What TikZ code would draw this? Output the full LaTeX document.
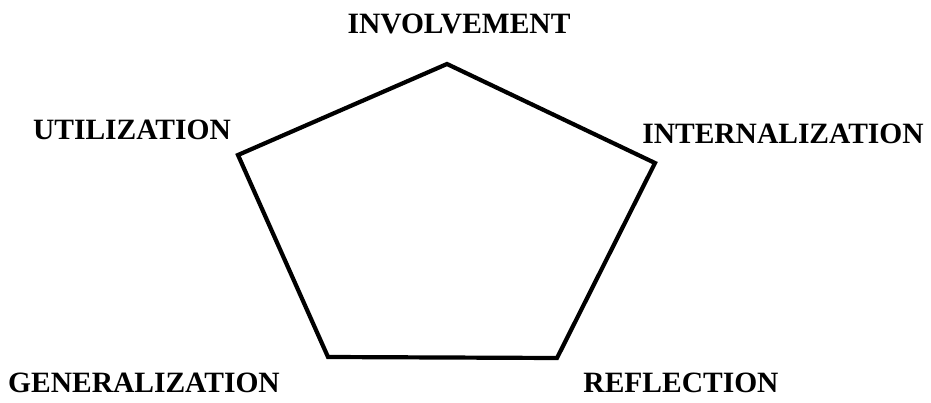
\documentclass[tikz,border=0pt]{standalone}
\usepackage{fontspec}
\setmainfont{Liberation Serif}
\begin{document}
\begin{tikzpicture}[x=1pt,y=-1pt,
  lbl/.style={inner sep=0pt,font=\fontsize{29.5}{30}\selectfont\bfseries},
  edge/.style={line width=4.2pt,line join=miter,black}]
\useasboundingbox (0,0) rectangle (931,403);
\fill[white] (0,0) rectangle (931,403);
\coordinate (vtop) at (447,64);
\coordinate (vright) at (655,163);
\coordinate (vbr) at (557,358);
\coordinate (vbl) at (328,357);
\coordinate (vleft) at (238,155);
\draw[edge] (vtop) -- (vright) -- (vbr) -- (vbl) -- (vleft) -- cycle;
\node[lbl] (inv) at (459,23.5) {INVOLVEMENT};
\node[lbl] (uti) at (132,130) {UTILIZATION};
\node[lbl] (int) at (783,134) {INTERNALIZATION};
\node[lbl] (gen) at (144,382.5) {GENERALIZATION};
\node[lbl] (ref) at (681,382.5) {REFLECTION};
\end{tikzpicture}
\end{document}
